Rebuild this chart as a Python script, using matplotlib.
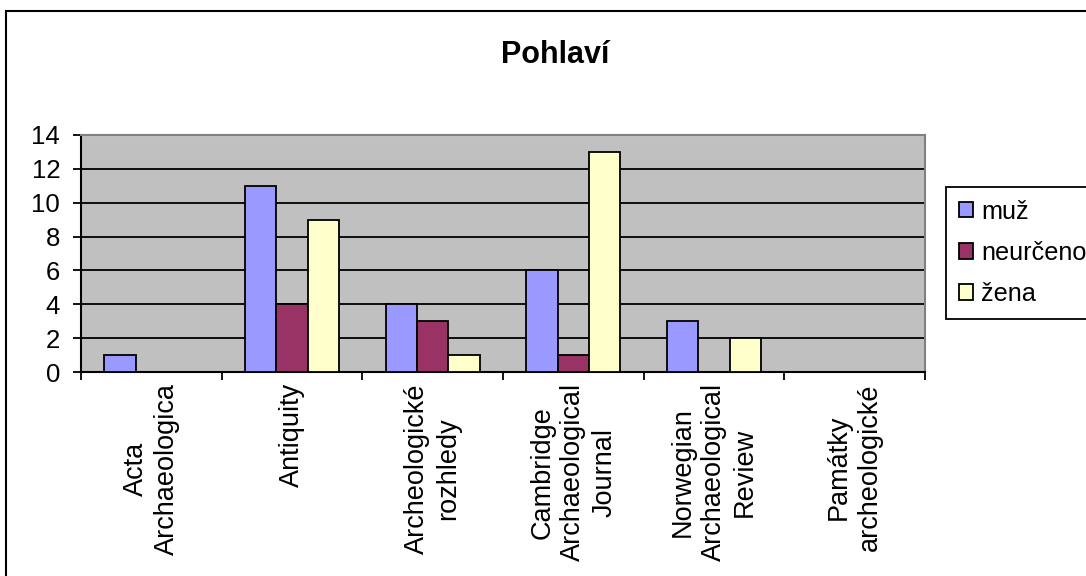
import numpy as np
import matplotlib.pyplot as plt
from matplotlib.patches import Rectangle

plt.rcParams['font.family'] = ['Liberation Sans', 'DejaVu Sans']

journals = ['Acta\nArchaeologica', 'Antiquity', 'Archeologické\nrozhledy',
            'Cambridge\nArchaeological\nJournal', 'Norwegian\nArchaeological\nReview',
            'Památky\narcheologické']
muz = [1, 11, 4, 6, 3, 0]
neurceno = [0, 4, 3, 1, 0, 0]
zena = [0, 9, 1, 13, 2, 0]

series = [('muž', muz, '#9999FF'), ('neurčeno', neurceno, '#993366'), ('žena', zena, '#FFFFCC')]

W, H = 1086, 576
fig = plt.figure(figsize=(W / 100, H / 100), dpi=100)
fig.patch.set_facecolor('white')

# outer chart frame (right and bottom edges are cut off in the original)
fig.patches.append(Rectangle((6 / W, -0.05), 1.1, 1 - 11 / H + 0.05, transform=fig.transFigure,
                             fill=False, edgecolor='black', linewidth=1.5))

ax = fig.add_axes([81 / W, 1 - 372 / H, (925 - 81) / W, (372 - 135) / H])
ax.set_facecolor('#C0C0C0')

x = np.arange(len(journals))
bw = 1 / 4.5
for i, (name, vals, col) in enumerate(series):
    ax.bar(x + (i - 1) * bw, vals, bw, color=col, edgecolor='black', linewidth=1.3,
           label=name, zorder=3)

ax.set_xlim(-0.5, len(journals) - 0.5)
ax.set_ylim(0, 14)
ax.set_yticks(range(0, 15, 2))
ax.yaxis.grid(True, color='black', linewidth=1.3, zorder=1)
ax.set_axisbelow(True)

ax.set_xticks(x)
ax.set_xticklabels(journals, rotation=90, ma='center', fontsize=19.5, linespacing=1.25)
ax.set_xticks(np.arange(len(journals) + 1) - 0.5, minor=True)
ax.tick_params(axis='x', which='major', length=0, pad=8)
ax.tick_params(axis='x', which='minor', length=6, width=1.3, color='black')
ax.tick_params(axis='y', length=6, width=1.3, pad=9, labelsize=18.5)

for s in ['left', 'bottom']:
    ax.spines[s].set_color('black')
    ax.spines[s].set_linewidth(1.5)
for s in ['top', 'right']:
    ax.spines[s].set_color('#808080')
    ax.spines[s].set_linewidth(1.5)

fig.text(555 / W, 1 - 63 / H, 'Pohlaví', ha='center', va='baseline',
         fontsize=22, fontweight='bold')

leg = fig.legend(loc='upper left', bbox_to_anchor=(946 / W, 1 - 187 / H),
                 bbox_transform=fig.transFigure, fontsize=18.2, frameon=True,
                 fancybox=False, edgecolor='black', framealpha=1,
                 handlelength=0.55, handleheight=0.55, handletextpad=0.35,
                 labelspacing=0.68, borderpad=0.5, borderaxespad=0)
leg.get_frame().set_linewidth(1.3)

fig.savefig('out.png', dpi=100)
